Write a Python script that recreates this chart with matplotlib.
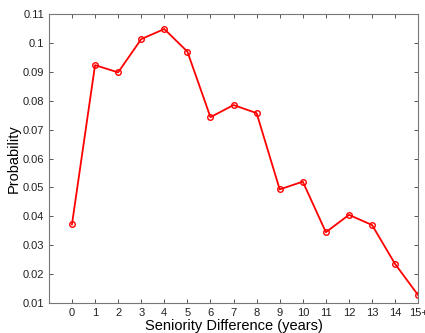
import matplotlib
matplotlib.use("Agg")
import matplotlib.pyplot as plt

years = list(range(16))
year_labels = [str(y) for y in range(15)] + ["15+"]
probability = [0.0372, 0.0923, 0.0898, 0.1013, 0.1048, 0.0970, 0.0743, 0.0785,
               0.0757, 0.0493, 0.0520, 0.0345, 0.0405, 0.0370, 0.0235, 0.0127]
y_ticks = [0.01, 0.02, 0.03, 0.04, 0.05, 0.06, 0.07, 0.08, 0.09, 0.1, 0.11]

plt.rcParams["font.family"] = ["Liberation Sans", "DejaVu Sans"]

fig = plt.figure(figsize=(4.25, 3.33), dpi=100)
ax = fig.add_axes([0.115, 0.090, 0.869, 0.868])
ax.plot(years, probability, color="red", linewidth=1.3, marker="o",
        markersize=4, markerfacecolor="none", markeredgecolor="red", markeredgewidth=1)

ax.set_xlim(-1, 15)
ax.set_ylim(0.01, 0.11)
ax.set_xticks(years)
ax.set_xticklabels(year_labels)
ax.set_yticks(y_ticks)
ax.set_yticklabels(["0.01", "0.02", "0.03", "0.04", "0.05", "0.06", "0.07",
                    "0.08", "0.09", "0.1", "0.11"])
ax.tick_params(direction="in", top=True, right=True, labelsize=8, length=3,
               color="#555555", labelcolor="#222222", width=0.7)
for s in ax.spines.values():
    s.set_color("#777777")
    s.set_linewidth(0.8)
ax.set_xlabel("Seniority Difference (years)", fontsize=10.5, labelpad=1)
ax.set_ylabel("Probability", fontsize=10.5)
ax.yaxis.set_label_coords(-0.075, 0.5)

fig.savefig("out.png", dpi=100)
